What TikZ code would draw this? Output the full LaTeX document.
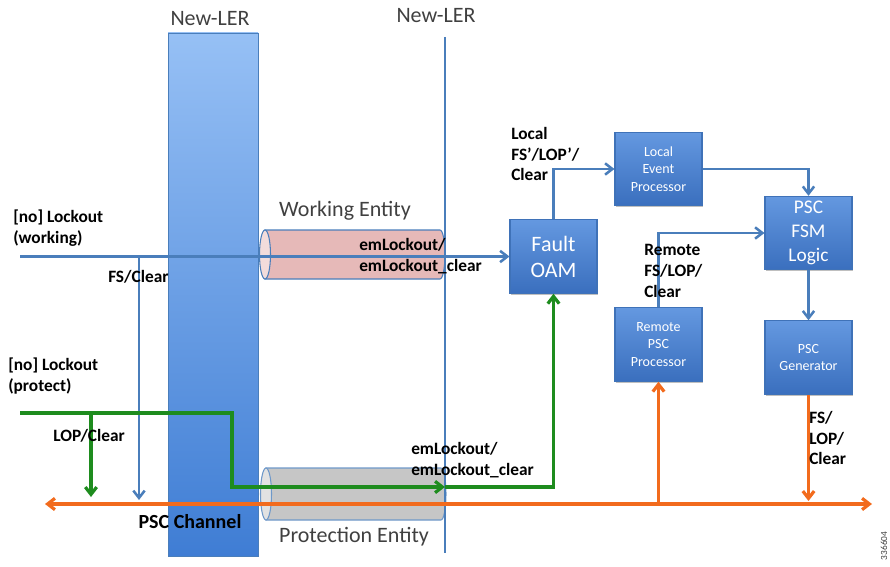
\documentclass[tikz,border=0pt]{standalone}
\usepackage{fontspec}
\setmainfont{Carlito}
\usetikzlibrary{arrows.meta,shadows}
\definecolor{boxtop}{HTML}{6498E0}
\definecolor{boxbot}{HTML}{3A6FBE}
\definecolor{boxedge}{HTML}{3F72B8}
\definecolor{bartop}{HTML}{96C0F5}
\definecolor{barbot}{HTML}{3F7DD4}
\definecolor{lblue}{HTML}{4A7EBB}
\definecolor{lgreen}{HTML}{1E8C1E}
\definecolor{lorange}{HTML}{F26B1D}
\definecolor{pinkfill}{HTML}{E6B9B8}
\definecolor{pinkend}{HTML}{F2DCDB}
\definecolor{grayfill}{HTML}{C6C6C6}
\definecolor{grayend}{HTML}{E2E2E2}
\definecolor{txtgray}{HTML}{404040}
\begin{document}
\begin{tikzpicture}[x=0.75pt,y=-0.75pt,
  box/.style={draw=boxedge, line width=0.8pt, top color=boxtop, bottom color=boxbot,
    minimum width=65.25pt, minimum height=55pt, inner sep=0pt, text=white, align=center,
    drop shadow={shadow xshift=0.8pt, shadow yshift=-1pt, fill=black, opacity=0.25}},
  smallbox/.style={box, font=\fontsize{10.5}{13}\selectfont},
  bigbox/.style={box, font=\fontsize{14.5}{18}\selectfont},
  lbl/.style={font=\bfseries\fontsize{13}{15.5}\selectfont, align=left, inner sep=0pt, anchor=west},
  title/.style={font=\fontsize{16.5}{19}\selectfont, text=txtgray, inner sep=0pt},
  tip/.style={-{Straight Barb[length=5.5pt,width=8.5pt]}},
  bline/.style={draw=lblue, line width=1.9pt},
  gline/.style={draw=lgreen, line width=2.4pt},
  oline/.style={draw=lorange, line width=2.4pt},
]
\useasboundingbox (0,0) rectangle (890,567);

% tall New-LER bar
\shade[top color=bartop, bottom color=barbot, draw=lblue, line width=0.6pt]
  (168,33) rectangle (258,556);
\node[title] (ler1) at (210,19) {New-LER};
\node[title] (ler2) at (436,16) {New-LER};

% working entity cylinder
\path[fill=pinkfill, draw=lblue, line width=0.8pt]
  (265,230) -- (440,230) arc[start angle=-90, end angle=90, x radius=5, y radius=24.5]
  -- (265,279) -- cycle;
\path[fill=pinkend, draw=lblue, line width=0.8pt] (265,254.5) ellipse[x radius=5.5, y radius=24.5];
\node[title] (we) at (345,211) {Working Entity};

% protection entity cylinder
\path[fill=grayfill, draw=lblue!80, line width=0.8pt]
  (266,468) -- (441,468) arc[start angle=-90, end angle=90, x radius=5, y radius=26]
  -- (266,520) -- cycle;
\path[fill=grayend, draw=lblue!80, line width=0.8pt] (266,494) ellipse[x radius=5.5, y radius=26];
\node[title] (pe) at (354,537) {Protection Entity};

% second New-LER line
\coordinate (lt) at (445,37);
\coordinate (lb) at (445,553);
\draw[draw=lblue, line width=1.7pt] (lt) -- (lb);

% boxes
\node[bigbox, font=\fontsize{16.5}{19.5}\selectfont] (fault) at (553.5,256.5) {Fault\\OAM};
\node[smallbox] (lep) at (658.5,169) {Local\\Event\\Processor};
\node[bigbox] (fsm) at (808.5,233) {PSC\\FSM\\Logic};
\node[smallbox] (rpp) at (658.5,344.5) {Remote\\PSC\\Processor};
\node[smallbox] (gen) at (808.5,357.5) {PSC\\Generator};

% blue working line
\coordinate (ws) at (20,256.5);
\coordinate (fsd) at (139,500);
\draw[bline, tip] (ws) -- (fault.west);
\draw[bline, tip] (ws -| fsd) -- (fsd);

% blue control arrows
\draw[bline, tip] (fault.north) |- (lep.west);
\draw[bline, tip] (lep.east) -| (fsm.north);
\draw[bline, tip] (rpp.north) |- (fsm.west);
\draw[bline, tip] (fsm.south) -- (gen.north);

% orange PSC channel
\coordinate (ol) at (45,504);
\coordinate (or) at (872,504);
\draw[oline, {Straight Barb[length=5.5pt,width=8.5pt]}-{Straight Barb[length=5.5pt,width=8.5pt]}] (ol) -- (or);
\draw[oline, tip] (rpp.south |- ol) -- (rpp.south);
\coordinate (gend) at (808.5,501);
\draw[oline, tip] (gen.south) -- (gend);

% green protect line
\coordinate (gs) at (20,413);
\coordinate (g2) at (232,487);
\coordinate (gm) at (445,487);
\coordinate (gd) at (91,497);
\draw[gline, tip] (gs) -| (g2) -- (gm);
\draw[gline, tip] (gm) -| (fault.south);
\draw[gline, tip] (gs -| gd) -- (gd);

% labels
\node[lbl] (l1) at (13,228) {[no] Lockout\\(working)};
\node[lbl] (l2) at (108,277) {FS/Clear};
\node[lbl] (l3) at (8,376) {[no] Lockout\\(protect)};
\node[lbl] (l4) at (53,436) {LOP/Clear};
\node[lbl, anchor=center, font=\bfseries\fontsize{15}{17}\selectfont] (l5) at (190,522) {PSC Channel};
\node[lbl] (l6) at (359,256) {emLockout/\\emLockout\_clear};
\node[lbl] (l7) at (411,460) {emLockout/\\emLockout\_clear};
\node[lbl] (l8) at (511,154) {Local\\FS’/LOP’/\\Clear};
\node[lbl] (l9) at (644,271) {Remote\\FS/LOP/\\Clear};
\node[lbl] (l10) at (809,438) {FS/\\LOP/\\Clear};
\node[rotate=90, font=\fontsize{7}{8}\selectfont, text=txtgray, inner sep=0pt] (num) at (884,546) {336604};
\end{tikzpicture}
\end{document}
